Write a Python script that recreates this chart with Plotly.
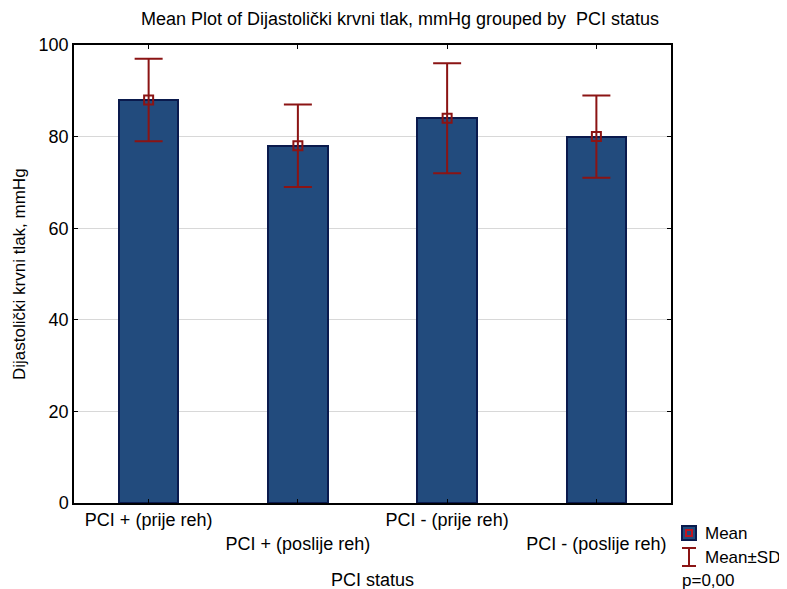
import plotly.graph_objects as go

categories = ["PCI + (prije reh)", "PCI + (poslije reh)", "PCI - (prije reh)", "PCI - (poslije reh)"]
tick_labels = ["PCI + (prije reh)", "<br>PCI + (poslije reh)", "PCI - (prije reh)", "<br>PCI - (poslije reh)"]
means = [88, 78, 84, 80]
sd_upper = [97, 87, 96, 89]
sd_lower = [79, 69, 72, 71]
y_ticks = [0, 20, 40, 60, 80, 100]

OFF = 8  # page body margin
W, H = 787 - OFF, 589 - OFF
L, R, T, B = 74 - OFF, 116, 45 - OFF, 86
PW, PH = W - L - R, H - T - B

def px(x):
    return (x - OFF - L) / PW

def py(y):
    return (H - B - (y - OFF)) / PH

FONT = "Liberation Sans, Arial, sans-serif"
FS = 18
RED = "#8B1414"
BLUE = "#224B7D"
NAVY = "#0A1A4D"

xs = list(range(len(categories)))

fig = go.Figure()
fig.add_trace(go.Bar(
    x=xs, y=means, width=0.4,
    marker=dict(color=BLUE, line=dict(color=NAVY, width=2)),
    showlegend=False,
))
fig.add_trace(go.Scatter(
    x=xs, y=means, mode="markers",
    marker=dict(symbol="square-open", size=9, color=RED, line=dict(width=2, color=RED)),
    error_y=dict(
        type="data", symmetric=False,
        array=[u - m for u, m in zip(sd_upper, means)],
        arrayminus=[m - l for m, l in zip(means, sd_lower)],
        color=RED, thickness=2, width=14,
    ),
    showlegend=False,
))

shapes = []
shapes.append(dict(type="rect", xref="paper", yref="paper",
                   x0=px(682), x1=px(696), y0=py(540), y1=py(526),
                   fillcolor=BLUE, line=dict(color=NAVY, width=2)))
shapes.append(dict(type="rect", xref="paper", yref="paper",
                   x0=px(686), x1=px(692), y0=py(536), y1=py(530),
                   fillcolor="rgba(0,0,0,0)", line=dict(color="#C0141E", width=2)))
shapes.append(dict(type="line", xref="paper", yref="paper",
                   x0=px(689), x1=px(689), y0=py(566), y1=py(548),
                   line=dict(color=RED, width=2)))
shapes.append(dict(type="line", xref="paper", yref="paper",
                   x0=px(682), x1=px(696), y0=py(548), y1=py(548),
                   line=dict(color=RED, width=2)))
shapes.append(dict(type="line", xref="paper", yref="paper",
                   x0=px(682), x1=px(696), y0=py(566), y1=py(566),
                   line=dict(color=RED, width=2)))

def note(text, x, y, anchor="left", size=FS, angle=0):
    return dict(text=text, xref="paper", yref="paper", x=x, y=y,
                xanchor=anchor, yanchor="middle", showarrow=False, textangle=angle,
                font=dict(family=FONT, size=size, color="black"))

annotations = [
    note("Mean", px(703), py(533), size=17),
    note("Mean±SD", px(703), py(557), size=17),
    note("p=0,00", px(680), py(580), size=17),
    note("PCI status", 0.5, py(580), "center"),
    note("Dijastolički krvni tlak, mmHg", px(19), 0.5, "center", size=17, angle=-90),
]

fig.update_layout(
    width=W, height=H,
    margin=dict(l=L, r=R, t=T, b=B, autoexpand=False),
    paper_bgcolor="white", plot_bgcolor="white",
    font=dict(family=FONT, size=FS, color="black"),
    title=dict(text="Mean Plot of Dijastolički krvni tlak, mmHg grouped by  PCI status",
               x=(400 - OFF) / W, xanchor="center", xref="container",
               y=1 - (19 - OFF) / H, yanchor="middle", yref="container",
               font=dict(family=FONT, size=FS, color="black")),
    shapes=shapes,
    annotations=annotations,
    showlegend=False,
    bargap=0,
)
fig.update_xaxes(
    range=[-0.5, 3.5], tickvals=xs, ticktext=tick_labels,
    showgrid=False, zeroline=False, automargin=False,
    showline=True, linecolor="black", linewidth=1.5, mirror="ticks",
    ticks="inside", ticklen=4, tickcolor="black", tickwidth=1,
    tickfont=dict(family=FONT, size=FS, color="black"),
)
fig.update_yaxes(
    range=[0, 100], tickvals=y_ticks, ticktext=[str(v) for v in y_ticks],
    showgrid=True, gridcolor="#D8D8D8", gridwidth=1, zeroline=False, automargin=False,
    showline=True, linecolor="black", linewidth=1.5, mirror="ticks",
    ticks="inside", ticklen=4, tickcolor="black", tickwidth=1,
    tickfont=dict(family=FONT, size=FS, color="black"),
)

fig.write_html("out.html")
